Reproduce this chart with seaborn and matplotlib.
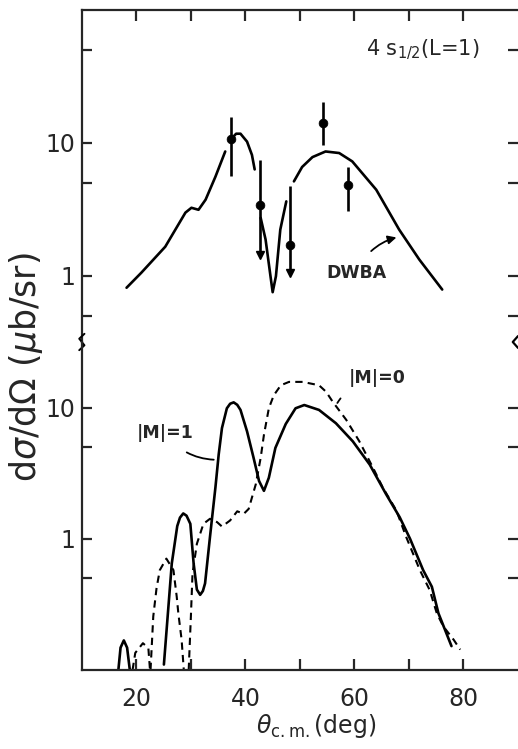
import matplotlib
matplotlib.use("Agg")
import matplotlib.pyplot as plt
from matplotlib.lines import Line2D
from matplotlib.ticker import FixedLocator, NullFormatter, FixedFormatter
import pandas as pd
import seaborn as sns

# ── Data ────────────────────────────────────────────────────────────────────
# Upper panel: DWBA curve (pieces, broken where it passes the data bars)
dwba_x = [[18.2, 20.9, 25.3, 29.0, 30.1, 31.4, 32.7, 34.5, 36.3],
          [37.4, 38.3, 39.1, 40.3, 41.2, 41.7],
          [42.8, 43.7, 44.6, 45.0, 45.6, 46.4, 47.5],
          [48.9, 50.4, 52.3, 54.7, 57.2, 59.6, 64.0, 68.2, 71.9, 76.1]]
dwba_y = [[0.81, 1.05, 1.65, 2.98, 3.24, 3.13, 3.73, 5.55, 8.6],
          [10.7, 11.7, 11.7, 10.2, 8.1, 6.3],
          [2.72, 1.87, 0.99, 0.75, 0.99, 2.22, 3.62],
          [5.12, 6.57, 7.8, 8.6, 8.37, 7.24, 4.43, 2.22, 1.32, 0.785]]

# Upper panel: measured points
exp_theta = [37.4, 42.6, 48.2, 54.2, 58.8]
exp_sigma = [10.7, 3.42, 1.69, 14.2, 4.81]
exp_hi = [15.6, 7.45, 4.69, 20.4, 6.56]
exp_lo = [5.58, 1.44, 1.05, 9.56, 3.09]
exp_limit = [False, True, True, False, False]

# Lower panel: |M|=1 (solid)
m1_x = [[16.7, 17.1, 17.7, 18.3, 18.8],
        [25.05, 26.5, 27.5, 28.0, 28.6, 29.2, 29.9, 30.5, 31.1, 31.7, 32.2,
         32.6, 33.5, 34.5, 35.1, 35.7, 36.6, 37.2, 37.85, 38.5, 39.1, 40.3,
         41.5, 42.5, 43.4, 44.3, 45.5, 47.4, 49.2, 50.8, 53.5, 56.6, 59.7,
         62.8, 65.8, 68.3, 70.2, 72.6, 74.2, 75.4, 76.6, 77.8]]
m1_y = [[0.1, 0.148, 0.168, 0.148, 0.1],
        [0.11, 0.65, 1.25, 1.45, 1.56, 1.5, 1.30, 0.65, 0.41, 0.374, 0.40,
         0.457, 1.03, 2.46, 4.39, 6.98, 9.88, 10.7, 10.96, 10.5, 9.6, 6.59,
         4.14, 2.76, 2.32, 2.92, 4.93, 7.5, 9.88, 10.46, 9.6, 7.6, 5.53,
         3.68, 2.19, 1.46, 1.0, 0.577, 0.431, 0.271, 0.203, 0.152]]

# Lower panel: |M|=0 (dashed)
m0_x = [[19.3, 19.8, 21.2, 22.2, 22.5],
        [22.6, 23.1, 23.7, 24.3, 25.5, 26.8, 27.4, 27.7, 28.3, 28.7],
        [29.6, 30.0, 30.3, 31.1, 32.3, 33.5, 34.8, 35.7, 37.2, 38.5, 39.7,
         40.6, 41.9, 42.8, 43.4, 44.3, 45.2, 46.5, 48.0, 50.5, 53.5, 54.8,
         56.0, 58.5, 60.9, 63.4, 65.2, 67.7, 69.5, 72.0, 73.8, 75.1, 76.3,
         78.2, 79.4]]
m0_y = [[0.1, 0.135, 0.16, 0.147, 0.1],
        [0.1, 0.256, 0.42, 0.577, 0.706, 0.577, 0.363, 0.27, 0.17, 0.1],
        [0.1, 0.256, 0.544, 0.916, 1.30, 1.42, 1.34, 1.24, 1.38, 1.62, 1.55,
         1.69, 2.6, 4.14, 6.2, 9.88, 12.4, 14.8, 15.7, 15.7, 14.8, 13.2,
         11.1, 8.06, 5.53, 3.48, 2.46, 1.64, 1.03, 0.577, 0.407, 0.271, 0.215,
         0.17, 0.143]]


def to_frame(xs, ys):
    rows = []
    for seg, (xx, yy) in enumerate(zip(xs, ys)):
        rows += [{"theta": a, "sigma": b, "seg": seg} for a, b in zip(xx, yy)]
    return pd.DataFrame(rows)


# ── Styling ─────────────────────────────────────────────────────────────────
sns.set_style("ticks")
plt.rcParams.update({
    "font.family": ["DejaVu Sans"],
    "mathtext.fontset": "dejavusans",
    "axes.linewidth": 1.6,
    "xtick.labelsize": 17,
    "ytick.labelsize": 17,
})

fig = plt.figure(figsize=(5.18, 7.49), dpi=100)
ax1 = fig.add_axes([0.158, 0.5434, 0.842, 0.4433])
ax2 = fig.add_axes([0.158, 0.1055, 0.842, 0.4379], sharex=ax1)

line_kw = dict(x="theta", y="sigma", units="seg", estimator=None, sort=False,
               color="black", legend=False)

for ax in (ax1, ax2):
    ax.set_yscale("log")

sns.lineplot(data=to_frame(dwba_x, dwba_y), ax=ax1, linewidth=1.9, **line_kw)
sns.lineplot(data=to_frame(m1_x, m1_y), ax=ax2, linewidth=1.9, **line_kw)
sns.lineplot(data=to_frame(m0_x, m0_y), ax=ax2, linewidth=1.5,
             dashes=False, linestyle=(0, (3.5, 2.5)), **line_kw)

# measured points with error bars (downward arrows = upper limits)
ax1.vlines(exp_theta, exp_lo, exp_hi, color="black", linewidth=1.9)
sns.scatterplot(x=exp_theta, y=exp_sigma, ax=ax1, color="black", s=40,
                edgecolor="black", zorder=5)
lim_x = [t for t, f in zip(exp_theta, exp_limit) if f]
lim_y = [v for v, f in zip(exp_lo, exp_limit) if f]
ax1.plot(lim_x, lim_y, linestyle="none", marker="v", markersize=6,
         color="black")

# axes limits and ticks
ax1.set_xlim(10, 90)
ax1.set_ylim(10 ** -0.5, 100)
ax2.set_ylim(0.1, 10 ** 1.5)

for ax, minors in ((ax1, [0.5, 5, 50]), (ax2, [0.5, 5])):
    ax.yaxis.set_major_locator(FixedLocator([1, 10]))
    ax.yaxis.set_major_formatter(FixedFormatter(["1", "10"]))
    ax.yaxis.set_minor_locator(FixedLocator(minors))
    ax.yaxis.set_minor_formatter(NullFormatter())
    ax.set_xlabel("")
    ax.set_ylabel("")
    ax.spines["right"].set_visible(False)
    ax.tick_params(axis="y", which="both", direction="in", length=7,
                   width=1.6, left=True, right=True, pad=5)

ax2.xaxis.set_major_locator(FixedLocator([20, 40, 60, 80]))
ax2.xaxis.set_minor_locator(FixedLocator([30, 50, 70]))
ax1.spines["bottom"].set_visible(False)
ax2.spines["top"].set_visible(False)
ax1.tick_params(axis="x", which="both", direction="in", length=8, width=1.6,
                bottom=False, top=True, labelbottom=False)
ax2.tick_params(axis="x", which="both", direction="in", length=8, width=1.6,
                bottom=True, top=False, pad=12)

# break marks on the frame
ax2.add_line(Line2D([-0.006, 0.006, -0.006, 0.006], [0.975, 0.99, 1.01, 1.025],
                    transform=ax2.transAxes, color="black", lw=1.4,
                    clip_on=False))
ax2.add_line(Line2D([1.0, 0.988, 1.0], [1.018, 1.0, 0.982],
                    transform=ax2.transAxes, color="black", lw=1.6,
                    clip_on=False))

# labels
fig.text(0.05, 0.51, r"d$\sigma$/d$\Omega$ ($\mu$b/sr)", rotation=90,
         ha="center", va="center", fontsize=25)
fig.text(0.61, 0.022, r"$\theta_{\rm c.m.}$(deg)", ha="center", va="baseline",
         fontsize=17)

ax1.text(72.5, 50, r"4 s$_{1/2}$(L=1)", ha="center", va="center", fontsize=15)
ax1.annotate("DWBA", xy=(68.2, 1.96), xytext=(60.3, 1.05), ha="center",
             va="center", fontsize=12.5, fontweight="bold",
             arrowprops=dict(arrowstyle="-|>", color="black", lw=1.3,
                             shrinkA=9, connectionstyle="arc3,rad=-0.25"))
ax2.annotate("|M|=1", xy=(34.7, 4.0), xytext=(25.3, 6.4), ha="center",
             va="center", fontsize=12.5, fontweight="bold",
             arrowprops=dict(arrowstyle="-", color="black", lw=1.3,
                             shrinkA=9, connectionstyle="arc3,rad=0.25"))
ax2.annotate("|M|=0", xy=(56.6, 10.4), xytext=(64.2, 16.8), ha="center",
             va="center", fontsize=12.5, fontweight="bold",
             arrowprops=dict(arrowstyle="-", color="black", lw=1.3,
                             shrinkA=8, connectionstyle="arc3,rad=0.25"))

fig.savefig("out.png", dpi=100)
plt.close(fig)
